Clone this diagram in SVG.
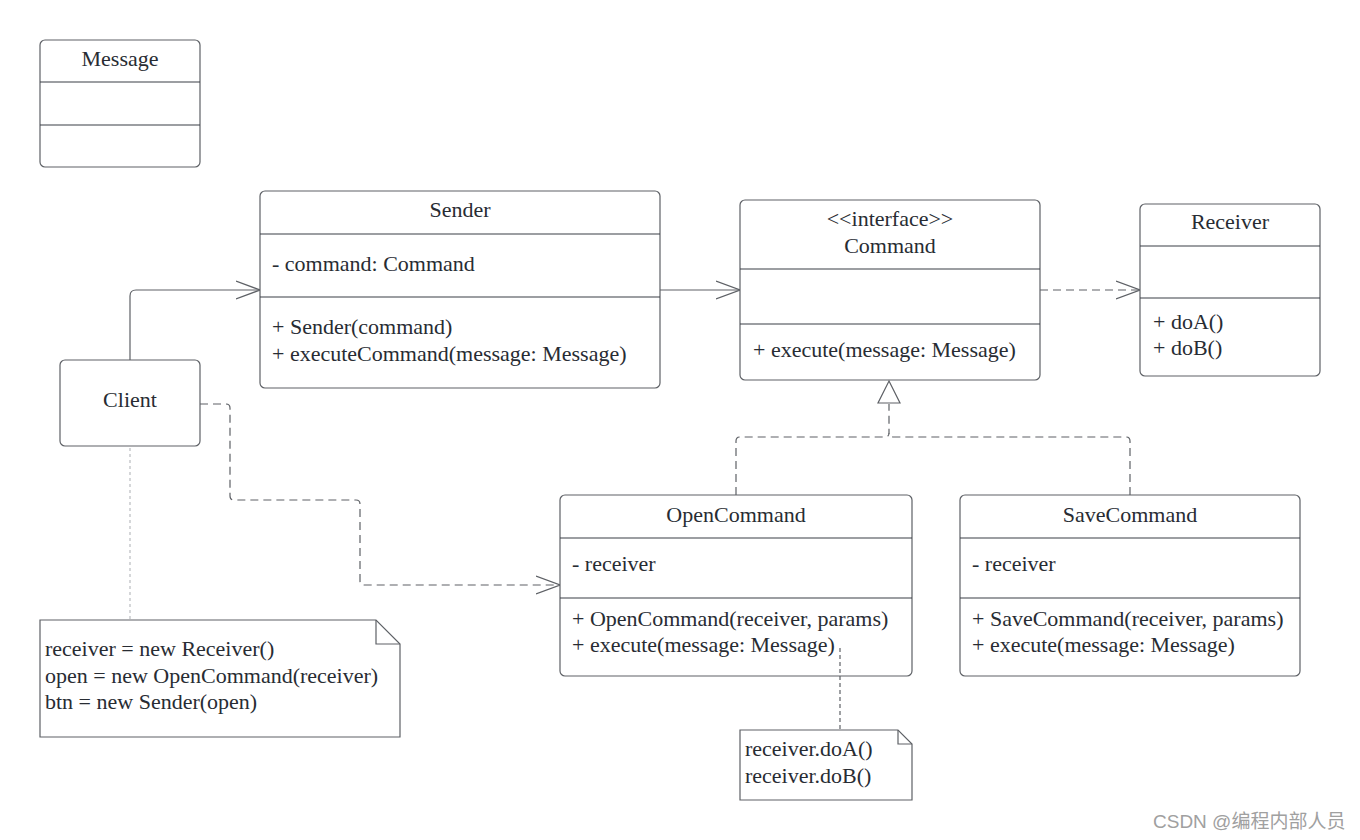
<svg xmlns="http://www.w3.org/2000/svg" width="1360" height="840" viewBox="0 0 1360 840">
<defs>
<style>
.box{fill:#fff;stroke:#5e6166;stroke-width:1.2}
.div{stroke:#3a3f46;stroke-width:1.2}
.t{font-family:"Liberation Serif","Times New Roman",serif;font-size:22px;fill:#282c33}
.c{text-anchor:middle}
.ln{fill:none;stroke:#5e6166;stroke-width:1.2}
.dash{stroke-dasharray:8 5}
.dot{fill:none;stroke:#b9bcc0;stroke-width:1.2;stroke-dasharray:3 3}
.wm{font-family:"Liberation Sans","Noto Sans CJK SC",sans-serif;font-size:19px;fill:#a0a0a0}
</style>
<marker id="open" viewBox="0 0 24 20" refX="24" refY="10" markerWidth="24" markerHeight="20" markerUnits="userSpaceOnUse" orient="auto">
<path d="M0,1 L24,10 L0,19" fill="none" stroke="#5e6166" stroke-width="1.2"/>
</marker>
</defs>
<rect width="1360" height="840" fill="#fff"/>

<g id="message">
<rect class="box" x="40" y="40" width="160" height="127" rx="5"/>
<line class="div" x1="40" y1="82" x2="200" y2="82"/>
<line class="div" x1="40" y1="125" x2="200" y2="125"/>
<text class="t c" x="120" y="66">Message</text>
</g>

<g id="sender">
<rect class="box" x="260" y="191" width="400" height="197" rx="5"/>
<line class="div" x1="260" y1="234" x2="660" y2="234"/>
<line class="div" x1="260" y1="297" x2="660" y2="297"/>
<text class="t c" x="460" y="217">Sender</text>
<text class="t" x="272" y="271">- command: Command</text>
<text class="t" x="272" y="334">+ Sender(command)</text>
<text class="t" x="272" y="361">+ executeCommand(message: Message)</text>
</g>

<g id="command">
<rect class="box" x="740" y="200" width="300" height="180" rx="5"/>
<line class="div" x1="740" y1="269" x2="1040" y2="269"/>
<line class="div" x1="740" y1="324" x2="1040" y2="324"/>
<text class="t c" x="890" y="226">&lt;&lt;interface&gt;&gt;</text>
<text class="t c" x="890" y="253">Command</text>
<text class="t" x="753" y="357">+ execute(message: Message)</text>
</g>

<g id="receiver">
<rect class="box" x="1140" y="204" width="180" height="172" rx="5"/>
<line class="div" x1="1140" y1="246" x2="1320" y2="246"/>
<line class="div" x1="1140" y1="298" x2="1320" y2="298"/>
<text class="t c" x="1230" y="229">Receiver</text>
<text class="t" x="1153" y="329">+ doA()</text>
<text class="t" x="1153" y="355">+ doB()</text>
</g>

<g id="client">
<rect class="box" x="60" y="360" width="140" height="86" rx="5"/>
<text class="t c" x="130" y="407">Client</text>
</g>

<g id="opencommand">
<rect class="box" x="560" y="495" width="352" height="181" rx="5"/>
<line class="div" x1="560" y1="538" x2="912" y2="538"/>
<line class="div" x1="560" y1="598" x2="912" y2="598"/>
<text class="t c" x="736" y="522">OpenCommand</text>
<text class="t" x="572" y="571">- receiver</text>
<text class="t" x="572" y="626">+ OpenCommand(receiver, params)</text>
<text class="t" x="572" y="652">+ execute(message: Message)</text>
</g>

<g id="savecommand">
<rect class="box" x="960" y="495" width="340" height="181" rx="5"/>
<line class="div" x1="960" y1="538" x2="1300" y2="538"/>
<line class="div" x1="960" y1="598" x2="1300" y2="598"/>
<text class="t c" x="1130" y="522">SaveCommand</text>
<text class="t" x="972" y="571">- receiver</text>
<text class="t" x="972" y="626">+ SaveCommand(receiver, params)</text>
<text class="t" x="972" y="652">+ execute(message: Message)</text>
</g>

<g id="note-client">
<path class="box" d="M40,620 H376 L400,644 V737 H40 Z"/>
<path class="ln" d="M376,620 V644 H400"/>
<text class="t" x="45" y="656">receiver = new Receiver()</text>
<text class="t" x="45" y="683">open = new OpenCommand(receiver)</text>
<text class="t" x="45" y="709">btn = new Sender(open)</text>
</g>

<g id="note-open">
<path class="box" d="M740,730 H898 L912,744 V800 H740 Z"/>
<path class="ln" d="M898,730 V744 H912"/>
<text class="t" x="745" y="756">receiver.doA()</text>
<text class="t" x="745" y="783">receiver.doB()</text>
</g>

<g id="connectors">
<path class="ln" d="M130,360 V296 Q130,290 136,290 H260" marker-end="url(#open)"/>
<path class="ln" d="M660,290 H740" marker-end="url(#open)"/>
<path class="ln dash" d="M1040,290 H1140" marker-end="url(#open)"/>
<path class="ln dash" d="M200,404 H226 Q230,404 230,408 V496 Q230,500 234,500 H356 Q360,500 360,504 V581 Q360,585 364,585 H560" marker-end="url(#open)"/>
<path class="ln dash" d="M736,495 V441 Q736,437 740,437 H885 Q889,437 889,433 V404"/>
<path class="ln dash" d="M1130,495 V441 Q1130,437 1126,437 H893 Q889,437 889,433"/>
<path d="M889,381 L900,403 L878,403 Z" fill="#fff" stroke="#5e6166" stroke-width="1.2"/>
<path class="dot" d="M130,448 V620"/>
<path class="ln" d="M840,648 V730" stroke="#8a8d91" stroke-dasharray="4 3" stroke-width="1"/>
</g>

<text class="wm" x="1153" y="828">CSDN @编程内部人员</text>
</svg>
